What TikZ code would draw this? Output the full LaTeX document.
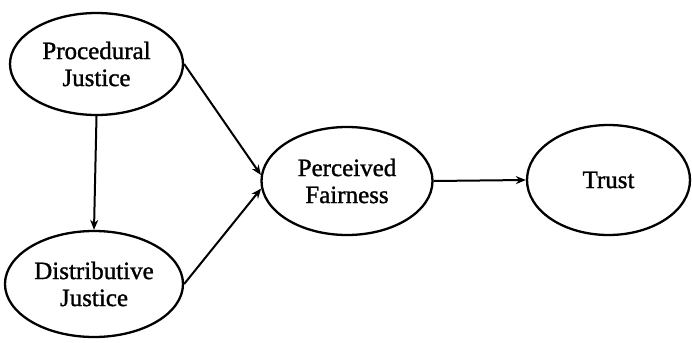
\documentclass[tikz,border=0pt]{standalone}
\usepackage{fontspec}
\setmainfont{Liberation Serif}
\newfontfamily\labfont[FakeBold=1.2]{Liberation Serif}
\usetikzlibrary{shapes.geometric,arrows.meta}
\begin{document}
\begin{tikzpicture}[x=1pt,y=-1pt,
  var/.style={draw,ellipse,line width=2.3pt,inner sep=0pt,align=center,
    font=\labfont\fontsize{25}{27}\selectfont},
  link/.style={line width=2pt,-{Stealth[length=10pt,width=8pt]}}]
\useasboundingbox (0,0) rectangle (692,342);
\node[var,minimum width=173pt,minimum height=102pt] (pj) at (96.5,64) {Procedural\\Justice};
\node[var,minimum width=178pt,minimum height=106pt] (dj) at (94,284) {Distributive\\Justice};
\node[var,minimum width=171pt,minimum height=108pt] (pf) at (347,181) {Perceived\\Fairness};
\node[var,minimum width=163pt,minimum height=110pt] (tr) at (608.5,180) {Trust};
\draw[link] (pj.south) -- (dj.north);
\draw[link] (pj.east) -- (pf.176);
\draw[link] (dj.east) -- (pf.185);
\draw[link] (pf.east) -- (tr.west);
\end{tikzpicture}
\end{document}
